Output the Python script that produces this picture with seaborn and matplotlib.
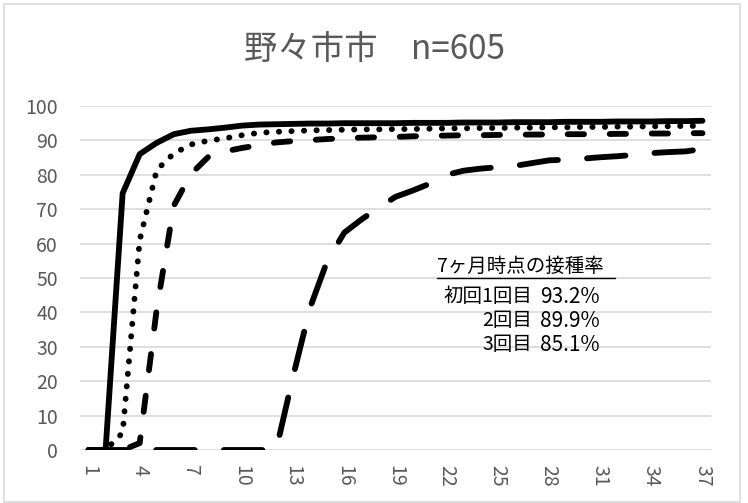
import numpy as np
import pandas as pd
import matplotlib.pyplot as plt
import seaborn as sns
from matplotlib.lines import Line2D
from matplotlib.patches import Rectangle

# months since start (category axis 1..37)
months = list(range(1, 38))

# vaccination rate (%)
dose1 = [0, 0, 74.6, 86.0, 89.3, 91.8, 92.8, 93.2, 93.7, 94.3,
         94.6, 94.7, 94.8, 94.9, 94.9, 95.0, 95.0, 95.0, 95.0, 95.1,
         95.1, 95.1, 95.2, 95.2, 95.2, 95.3, 95.3, 95.3, 95.4, 95.4,
         95.4, 95.5, 95.5, 95.5, 95.6, 95.6, 95.7]
dose2 = [0, 0, 5.0, 61.0, 81.4, 86.2, 88.8, 89.9, 90.6, 91.5,
         92.2, 92.5, 92.7, 92.9, 93.0, 93.1, 93.2, 93.2, 93.3, 93.3,
         93.4, 93.5, 93.5, 93.6, 93.6, 93.7, 93.7, 93.8, 93.8, 93.9,
         93.9, 94.0, 94.0, 94.1, 94.1, 94.2, 94.2]
dose3 = [0, 0, 0, 2.0, 41.0, 71.0, 80.2, 85.1, 86.8, 87.8,
         88.6, 89.4, 89.8, 90.1, 90.4, 90.6, 90.8, 90.9, 91.0, 91.2,
         91.3, 91.4, 91.5, 91.5, 91.6, 91.6, 91.7, 91.7, 91.8, 91.8,
         91.8, 91.9, 91.9, 92.0, 92.0, 92.1, 92.1]
booster = [0, 0, 0, 0, 0, 0, 0, 0, 0, 0,
           0, 0, 21.5, 41.5, 55.0, 63.2, 67.0, 70.4, 73.6, 75.4,
           77.4, 80.0, 81.2, 81.8, 82.2, 82.6, 83.4, 84.2, 84.4, 84.7,
           85.1, 85.4, 85.8, 86.3, 86.6, 86.8, 87.5]

series_names = ['dose1', 'dose2', 'dose3', 'booster']
title = '野々市市\u3000n=605'
note_head = '7ヶ月時点の接種率'
note_labels = ['初回1回目', '2回目', '3回目']
note_values = ['93.2%', '89.9%', '85.1%']

df = pd.DataFrame({'month': months * 4,
                   'rate': dose1 + dose2 + dose3 + booster,
                   'dose': np.repeat(series_names, len(months))})

sns.set_theme(style='white')
plt.rcParams['font.family'] = ['Noto Sans CJK JP', 'DejaVu Sans']

fig = plt.figure(figsize=(7.48, 5.03), dpi=100)
ax = fig.add_axes([80 / 748, 1 - 450 / 503, (711 - 80) / 748, (450 - 106) / 503])

dash_styles = {'dose1': '', 'dose2': (0.05, 2.1), 'dose3': (2.8, 4.4), 'booster': (6.6, 5.0)}
sns.lineplot(data=df, x='month', y='rate', style='dose', dashes=dash_styles,
             color='black', linewidth=4.2, legend=False, ax=ax,
             dash_capstyle='round', solid_capstyle='round', solid_joinstyle='round',
             dash_joinstyle='round')

ax.set_xlim(0.5, 37.5)
ax.set_ylim(0, 100)
ax.set_yticks(range(0, 101, 10))
ax.set_xticks(months[::3])
ax.set_xticklabels([])
ax.yaxis.grid(True, color='#d9d9d9', linewidth=1.2)
ax.xaxis.grid(False)
ax.set_axisbelow(True)
for s in ax.spines.values():
    s.set_visible(False)
ax.tick_params(axis='y', length=0, pad=16, labelsize=14, labelcolor='#595959')
ax.tick_params(axis='x', length=0)
ax.set_xlabel('')
ax.set_ylabel('')

# rotated category labels (every 3rd month), reading top to bottom
for m in months[::3]:
    ax.text(m, -0.045, str(m), transform=ax.get_xaxis_transform(), rotation=-90,
            rotation_mode='default', ha='center', va='top', fontsize=14, color='#595959')

fig.text(0.5, 1 - 49 / 503, title, ha='center', va='center', fontsize=24, color='#595959')

# annotation box
fig.text(437 / 748, 1 - 266 / 503, note_head, ha='left', va='center', fontsize=14, color='black')
fig.add_artist(Line2D([437 / 748, 615 / 748], [1 - 278 / 503] * 2, color='black', linewidth=1))
for i, (lab, val) in enumerate(zip(note_labels, note_values)):
    y = 1 - (297 + i * 24) / 503
    fig.text(532 / 748, y, lab, ha='right', va='center', fontsize=14, color='black')
    fig.text(540 / 748, y, val, ha='left', va='center', fontsize=15, color='black')

# chart border
fig.add_artist(Rectangle((4 / 748, 0.002), 736 / 748, 1 - 4 / 503 - 0.002, transform=fig.transFigure,
                         fill=False, edgecolor='#d9d9d9', linewidth=1.2))

plt.savefig('out.png', dpi=100)
